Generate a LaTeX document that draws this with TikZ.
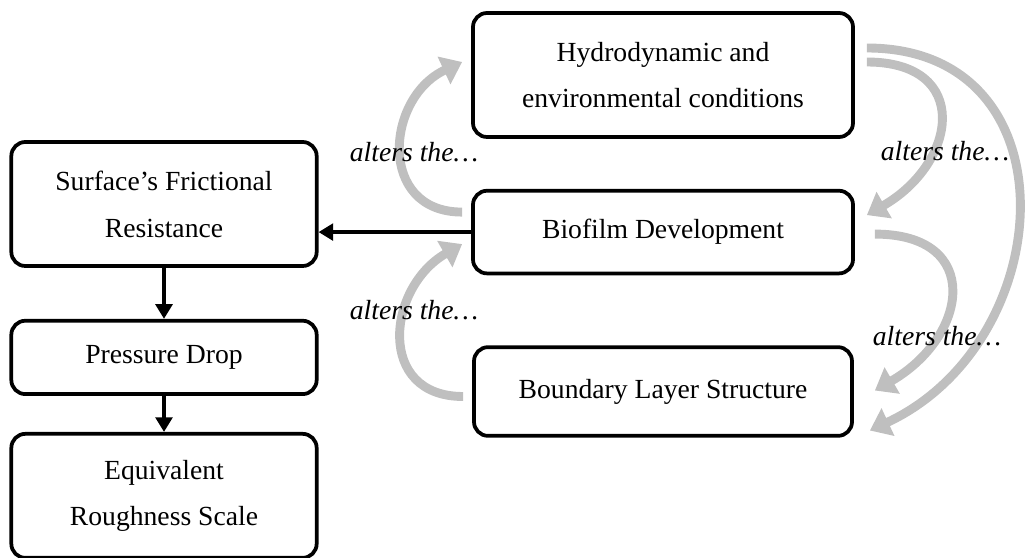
\documentclass[tikz,border=0pt]{standalone}
\usepackage{fontspec}
\setmainfont{Liberation Serif}
\usetikzlibrary{positioning,arrows.meta}

\begin{document}
\begin{tikzpicture}[
  x=0.015cm, y=0.015cm,
  every node/.style={font=\fontsize{11.8}{20}\selectfont},
  box/.style={draw, line width=1.6pt, rounded corners=6pt, align=center, inner sep=2pt},
  arrow/.style={-{Triangle[length=2.2mm, width=2.5mm]}, line width=1.6pt},
  alters/.style={-{Triangle[length=3mm, width=4.4mm]}, line width=3.8pt, draw=gray!50},
  note/.style={font=\fontsize{11.8}{14}\selectfont\itshape}
]
\useasboundingbox (0,0) rectangle (1025,558);

% right column
\node[box, minimum width=5.7cm, minimum height=1.86cm] (hydro) at (663,483) {Hydrodynamic and \\ environmental conditions};
\node[box, minimum width=5.7cm, minimum height=1.24cm] (bio) [below=0.75cm of hydro] {Biofilm Development};
\node[box, minimum width=5.67cm, minimum height=1.33cm] (bls) [below=1.05cm of bio] {Boundary Layer Structure};

% left column
\node[box, minimum width=4.58cm, minimum height=1.86cm] (surf) at (164,354) {Surface’s Frictional \\ Resistance};
\node[box, minimum width=4.58cm, minimum height=1.1cm] (drop) [below=0.765cm of surf] {Pressure Drop};
\node[box, minimum width=4.58cm, minimum height=1.86cm] (rough) [below=0.54cm of drop] {Equivalent \\ Roughness Scale};

\draw[arrow] (bio.west) -- (bio.west -| surf.east);
\draw[arrow] (surf) -- (drop);
\draw[arrow] (drop) -- (rough);

% feedback loops
\draw[alters] ([shift={(-9,20)}]bio.west) to[out=180, in=205, looseness=1.45] ([shift={(-9,13)}]hydro.west);
\draw[alters] ([shift={(-9,-5)}]bls.west) to[out=180, in=210, looseness=1.46] ([shift={(-9,-12)}]bio.west);
\draw[alters] ([shift={(12,13)}]hydro.east) to[out=0, in=30, looseness=1.76] ([shift={(12,17)}]bio.east);
\draw[alters] ([shift={(12,27)}]hydro.east) to[out=0, in=25, looseness=1.40] ([shift={(16,-39)}]bls.east);
\draw[alters] ([shift={(20,-2)}]bio.east) to[out=0, in=30, looseness=1.78] ([shift={(21,1)}]bls.east);

\node[note] (n1) at (414,406) {alters the…};
\node[note] (n2) at (414,248) {alters the…};
\node[note] (n3) at (945,407) {alters the…};
\node[note] (n4) at (937,222) {alters the…};
\end{tikzpicture}
\end{document}
